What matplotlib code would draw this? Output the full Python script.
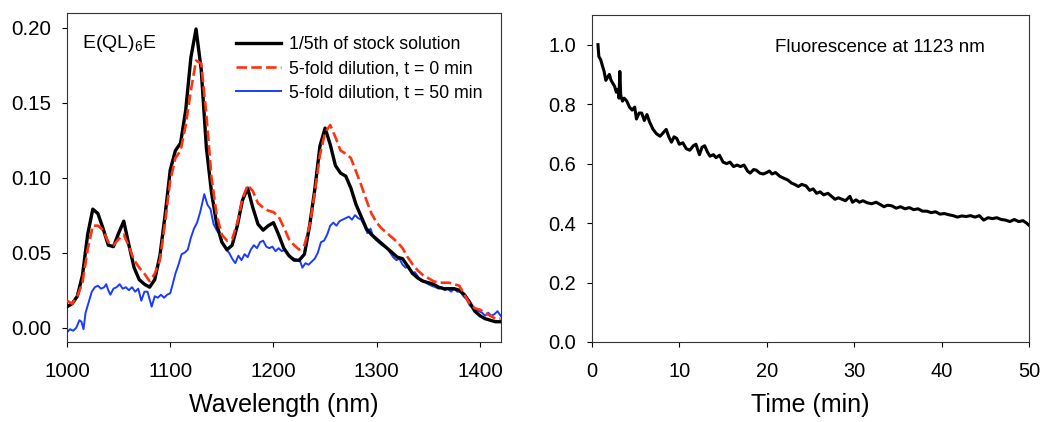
import numpy as np
import matplotlib
matplotlib.use("Agg")
from matplotlib import pyplot as plt

plt.rcParams['font.family'] = ['Liberation Sans', 'DejaVu Sans']
plt.rcParams['mathtext.default'] = 'regular'

# emission spectra, 1000-1420 nm every 5 nm
wl = list(range(1000, 1425, 5))
stock = [0.014, 0.016, 0.021, 0.035, 0.062, 0.079, 0.076, 0.066, 0.055, 0.054,
         0.063, 0.071, 0.055, 0.040, 0.032, 0.029, 0.027, 0.032, 0.048, 0.075,
         0.105, 0.118, 0.123, 0.145, 0.180, 0.199, 0.172, 0.120, 0.090, 0.069,
         0.057, 0.052, 0.055, 0.068, 0.085, 0.093, 0.080, 0.069, 0.065, 0.068,
         0.070, 0.062, 0.053, 0.048, 0.045, 0.045, 0.049, 0.068, 0.092, 0.121,
         0.133, 0.122, 0.108, 0.103, 0.101, 0.093, 0.082, 0.074, 0.066, 0.062,
         0.059, 0.056, 0.053, 0.050, 0.047, 0.046, 0.041, 0.036, 0.033, 0.031,
         0.030, 0.029, 0.027, 0.026, 0.026, 0.026, 0.025, 0.022, 0.017, 0.011,
         0.008, 0.006, 0.005, 0.004, 0.004]
dil_t0 = [0.018, 0.016, 0.021, 0.030, 0.052, 0.068, 0.068, 0.065, 0.057, 0.055,
          0.059, 0.062, 0.054, 0.045, 0.040, 0.036, 0.031, 0.036, 0.045, 0.070,
          0.098, 0.113, 0.118, 0.135, 0.158, 0.178, 0.176, 0.142, 0.100, 0.075,
          0.062, 0.058, 0.059, 0.070, 0.086, 0.095, 0.091, 0.083, 0.080, 0.078,
          0.077, 0.074, 0.067, 0.059, 0.055, 0.052, 0.055, 0.068, 0.090, 0.115,
          0.130, 0.135, 0.127, 0.118, 0.116, 0.113, 0.104, 0.095, 0.085, 0.076,
          0.070, 0.066, 0.063, 0.060, 0.057, 0.053, 0.047, 0.042, 0.038, 0.035,
          0.033, 0.031, 0.030, 0.030, 0.030, 0.029, 0.028, 0.022, 0.016, 0.013,
          0.012, 0.010, 0.008, 0.006, 0.006]

# t = 50 min trace is noisier, read at its own points
wl_50 = [1000, 1003, 1006, 1009, 1012, 1014, 1016, 1018, 1021, 1024, 1027, 1030,
         1033, 1036, 1038, 1040, 1042, 1045, 1048, 1051, 1054, 1057, 1060, 1063,
         1066, 1069, 1072, 1075, 1078, 1080, 1082, 1085, 1088, 1091, 1094, 1097,
         1100, 1102, 1105, 1108, 1111, 1114, 1117, 1120, 1123, 1126, 1129, 1131,
         1133, 1136, 1139, 1142, 1145, 1148, 1151, 1154, 1157, 1160, 1163, 1166,
         1169, 1172, 1175, 1178, 1181, 1184, 1187, 1190, 1193, 1196, 1199, 1202,
         1205, 1208, 1211, 1214, 1217, 1220, 1223, 1226, 1228, 1231, 1234, 1237,
         1240, 1243, 1246, 1249, 1252, 1255, 1258, 1261, 1264, 1267, 1270, 1273,
         1276, 1279, 1282, 1285, 1288, 1291, 1294, 1297, 1300, 1305, 1310, 1313,
         1316, 1319, 1322, 1325, 1328, 1331, 1334, 1337, 1340, 1343, 1346, 1350,
         1353, 1357, 1360, 1363, 1366, 1369, 1372, 1375, 1378, 1381, 1384, 1387,
         1390, 1393, 1396, 1399, 1402, 1405, 1408, 1411, 1414, 1417, 1420]
dil_t50 = [-0.003, -0.001, -0.002, 0.000, 0.005, 0.004, -0.001, 0.010, 0.017, 0.024, 0.027, 0.028,
           0.026, 0.027, 0.029, 0.025, 0.022, 0.026, 0.027, 0.029, 0.026, 0.027, 0.025, 0.027,
           0.024, 0.026, 0.018, 0.024, 0.024, 0.019, 0.014, 0.021, 0.020, 0.022, 0.020, 0.022,
           0.023, 0.028, 0.036, 0.042, 0.049, 0.050, 0.052, 0.060, 0.066, 0.070, 0.077, 0.083,
           0.089, 0.082, 0.079, 0.069, 0.065, 0.062, 0.056, 0.052, 0.050, 0.046, 0.043, 0.048,
           0.045, 0.049, 0.047, 0.052, 0.055, 0.053, 0.057, 0.058, 0.054, 0.053, 0.054, 0.051,
           0.053, 0.051, 0.052, 0.049, 0.047, 0.046, 0.045, 0.044, 0.040, 0.043, 0.042, 0.044,
           0.046, 0.050, 0.057, 0.058, 0.062, 0.068, 0.070, 0.068, 0.071, 0.072, 0.073, 0.074,
           0.072, 0.075, 0.073, 0.072, 0.068, 0.063, 0.066, 0.060, 0.058, 0.055, 0.053, 0.050,
           0.047, 0.045, 0.046, 0.042, 0.040, 0.041, 0.036, 0.037, 0.034, 0.031, 0.031, 0.029,
           0.028, 0.027, 0.026, 0.027, 0.025, 0.026, 0.024, 0.026, 0.024, 0.024, 0.021, 0.019,
           0.015, 0.013, 0.012, 0.011, 0.010, 0.008, 0.010, 0.008, 0.009, 0.011, 0.008]

# normalised fluorescence at 1123 nm vs time
time_min = [0.7, 0.8, 1.0, 1.2, 1.4, 1.6, 1.8, 2.0, 2.2, 2.4, 2.6, 2.8, 3.0, 3.1, 3.2, 3.3,
            3.5, 3.7, 4.0, 4.3, 4.6, 4.9, 5.1, 5.4, 5.7, 6.0, 6.3, 6.6, 7.0, 7.4, 7.8, 8.2,
            8.5, 8.8, 9.1, 9.4, 9.7, 10.0, 10.4, 10.8, 11.2, 11.6, 11.9, 12.3, 12.6, 12.9,
            13.2, 13.5, 13.9, 14.2, 14.6, 15.0, 15.4, 15.8, 16.2, 16.6, 17.0, 17.4, 17.8,
            18.1, 18.5, 18.8, 19.2, 19.6, 20.0, 20.3, 20.6, 21.0, 21.5, 22.0, 22.4, 22.8,
            23.2, 23.6, 24.0, 24.5, 24.9, 25.3, 25.7, 26.1, 26.5, 27.0, 27.4, 27.8, 28.2,
            28.6, 29.0, 29.5, 29.8, 30.2, 30.6, 31.0, 31.5, 32.0, 32.5, 33.0, 33.4, 33.8,
            34.3, 34.8, 35.3, 35.8, 36.3, 36.8, 37.3, 37.8, 38.3, 38.8, 39.3, 39.8, 40.3,
            40.8, 41.3, 41.8, 42.3, 42.8, 43.3, 43.8, 44.3, 44.8, 45.3, 45.8, 46.3, 46.8,
            47.3, 47.8, 48.3, 48.8, 49.3, 49.7, 50.0]
fluor = [1.00, 0.96, 0.95, 0.93, 0.91, 0.88, 0.89, 0.90, 0.88, 0.87, 0.86, 0.84, 0.85, 0.82, 0.91, 0.83,
         0.81, 0.82, 0.81, 0.79, 0.78, 0.79, 0.75, 0.77, 0.77, 0.745, 0.765, 0.74, 0.715, 0.70, 0.692, 0.705,
         0.715, 0.69, 0.672, 0.69, 0.685, 0.665, 0.67, 0.65, 0.645, 0.66, 0.665, 0.63, 0.655, 0.66,
         0.64, 0.625, 0.63, 0.62, 0.628, 0.605, 0.60, 0.605, 0.59, 0.595, 0.59, 0.595, 0.575,
         0.568, 0.58, 0.578, 0.568, 0.565, 0.57, 0.575, 0.565, 0.57, 0.557, 0.55, 0.545, 0.535,
         0.53, 0.523, 0.53, 0.525, 0.51, 0.515, 0.50, 0.505, 0.495, 0.50, 0.49, 0.48, 0.485,
         0.48, 0.475, 0.49, 0.47, 0.478, 0.47, 0.475, 0.468, 0.465, 0.47, 0.462, 0.455, 0.46,
         0.458, 0.45, 0.455, 0.448, 0.452, 0.445, 0.448, 0.44, 0.44, 0.435, 0.438, 0.43, 0.432,
         0.428, 0.425, 0.42, 0.424, 0.422, 0.425, 0.42, 0.425, 0.41, 0.418, 0.415, 0.418, 0.412,
         0.41, 0.405, 0.412, 0.405, 0.408, 0.40, 0.392]

fig = plt.figure(figsize=(10.55, 4.22), dpi=100)
ax1 = fig.add_axes([0.0635, 0.1896, 0.411, 0.779])
ax2 = fig.add_axes([0.561, 0.1896, 0.4145, 0.775])

ax1.plot(wl, stock, color='black', lw=2.4, label='1/5th of stock solution', zorder=3)
ax1.plot(wl, dil_t0, color='#ff3311', lw=1.9, ls=(0, (4, 1.6)), label='5-fold dilution, t = 0 min', zorder=4)
ax1.plot(wl_50, dil_t50, color='#1a3cff', lw=1.4, label='5-fold dilution, t = 50 min', zorder=2)
ax1.set_xlim(1000, 1420)
ax1.set_ylim(-0.0095, 0.2095)
ax1.set_xticks([1000, 1100, 1200, 1300, 1400])
ax1.set_yticks([0.0, 0.05, 0.10, 0.15, 0.20])
ax1.set_yticklabels(['0.00', '0.05', '0.10', '0.15', '0.20'])
ax1.set_xlabel('Wavelength (nm)', fontsize=18, labelpad=9)
ax1.text(0.035, 0.894, 'E(QL)$_6$E', transform=ax1.transAxes, fontsize=14, va='baseline')
ax1.legend(loc='upper left', bbox_to_anchor=(0.39, 0.93), frameon=False, fontsize=12.8,
           handlelength=2.5, handletextpad=0.5, labelspacing=0.39, borderpad=0, borderaxespad=0)

ax2.plot(time_min, fluor, color='black', lw=2.2)
ax2.set_xlim(0, 50)
ax2.set_ylim(0, 1.1)
ax2.set_xticks([0, 10, 20, 30, 40, 50])
ax2.set_yticks([0.0, 0.2, 0.4, 0.6, 0.8, 1.0])
ax2.set_yticklabels(['0.0', '0.2', '0.4', '0.6', '0.8', '1.0'])
ax2.set_xlabel('Time (min)', fontsize=18, labelpad=9)
ax2.text(0.418, 0.887, 'Fluorescence at 1123 nm', transform=ax2.transAxes, fontsize=13.5, va='baseline')

for ax, lsize in ((ax1, 14.8), (ax2, 14.4)):
    ax.tick_params(axis='both', direction='out', length=3.6, width=0.8, labelsize=lsize,
                   top=False, right=False)
    ax.tick_params(axis='x', pad=10.5)
    ax.tick_params(axis='y', pad=7.5)
    for s in ax.spines.values():
        s.set_linewidth(0.8)
        s.set_color('#333333')

fig.savefig('out.png', dpi=100)
